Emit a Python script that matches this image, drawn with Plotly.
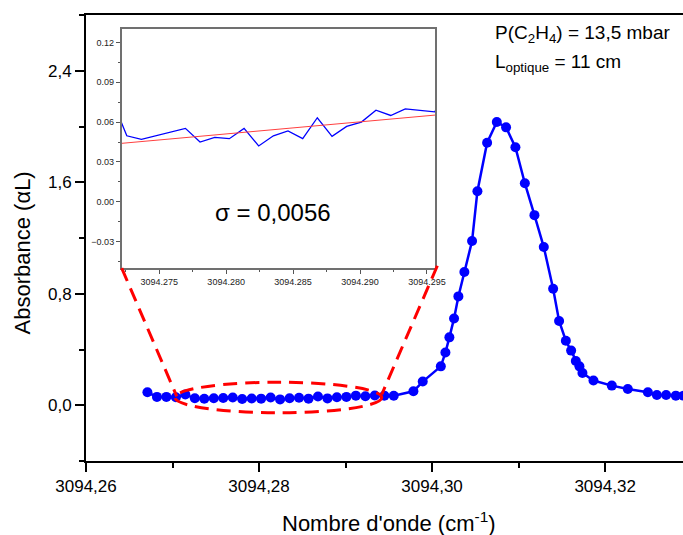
import plotly.graph_objects as go

# ---------------- data ----------------
wavenumber = [
    3094.26710, 3094.26820, 3094.26929, 3094.27039, 3094.27148, 3094.27258,
    3094.27367, 3094.27477, 3094.27586, 3094.27696, 3094.27805, 3094.27915,
    3094.28024, 3094.28134, 3094.28243, 3094.28353, 3094.28462, 3094.28572,
    3094.28681, 3094.28791, 3094.28900, 3094.29010, 3094.29119, 3094.29229,
    3094.29338, 3094.29448, 3094.29557,
    3094.29784, 3094.29892, 3094.30101, 3094.30154, 3094.30200, 3094.30254,
    3094.30304, 3094.30373, 3094.30462, 3094.30524, 3094.30636, 3094.30748,
    3094.30855, 3094.30963, 3094.31072, 3094.31183, 3094.31291, 3094.31399,
    3094.31468, 3094.31546, 3094.31607, 3094.31661, 3094.31703, 3094.31738,
    3094.31865, 3094.32077, 3094.32262, 3094.32494, 3094.32598, 3094.32705,
    3094.32817, 3094.32905,
]
absorbance = [
    0.093, 0.060, 0.060, 0.058, 0.077, 0.0497,
    0.047, 0.0498, 0.0525, 0.0553, 0.045, 0.0485,
    0.0475, 0.0553, 0.042, 0.0497, 0.0533, 0.0475,
    0.0633, 0.0493, 0.0568, 0.060, 0.069, 0.065,
    0.070, 0.069, 0.0678,
    0.100, 0.170, 0.279, 0.378, 0.487, 0.623,
    0.781, 0.956, 1.178, 1.536, 1.884, 2.032,
    1.994, 1.851, 1.593, 1.364, 1.135, 0.836,
    0.605, 0.463, 0.392, 0.318, 0.279, 0.232,
    0.177, 0.141, 0.117, 0.093, 0.074, 0.074,
    0.069, 0.069,
]
fit_x = [3094.2722, 3094.2956]
fit_y = [0.0440, 0.0653]

main_xticks = [3094.26, 3094.28, 3094.30, 3094.32]
main_xtext = ["3094,26", "3094,28", "3094,30", "3094,32"]
main_yticks = [0.0, 0.8, 1.6, 2.4]
main_ytext = ["0,0", "0,8", "1,6", "2,4"]

FONT = "Liberation Sans, Arial, sans-serif"
BLUE = "#0000ff"
RED = "#ff0000"

fig = go.Figure()

# main spectrum
fig.add_trace(go.Scatter(
    x=wavenumber, y=absorbance, mode="lines+markers",
    line=dict(color=BLUE, width=2.5),
    marker=dict(color=BLUE, size=10),
    xaxis="x", yaxis="y", showlegend=False, cliponaxis=True,
))
# inset zoom of baseline
fig.add_trace(go.Scatter(
    x=wavenumber, y=absorbance, mode="lines",
    line=dict(color=BLUE, width=1.3),
    xaxis="x2", yaxis="y2", showlegend=False,
))
fig.add_trace(go.Scatter(
    x=fit_x, y=fit_y, mode="lines",
    line=dict(color="#ff4040", width=1),
    xaxis="x2", yaxis="y2", showlegend=False,
))

dash = "14px,8px"
shapes = [
    dict(type="circle", xref="x", yref="y",
         x0=3094.27029, x1=3094.29418, y0=-0.054, y1=0.165,
         line=dict(color=RED, width=3, dash=dash)),
    dict(type="line", xref="x", yref="y",
         x0=3094.26413, y0=0.984, x1=3094.27049, y1=0.064,
         line=dict(color=RED, width=3, dash=dash)),
    dict(type="line", xref="x", yref="y",
         x0=3094.30061, y0=1.001, x1=3094.29418, y1=0.077,
         line=dict(color=RED, width=3, dash=dash)),
]

annotations = [
    dict(text="Nombre d'onde (cm<sup>-1</sup>)", xref="paper", yref="paper",
         x=0.508, y=-0.136, xanchor="center", yanchor="middle", showarrow=False,
         font=dict(family=FONT, size=22, color="black")),
    dict(text="Absorbance (αL)", xref="paper", yref="paper",
         x=-0.106, y=0.467, xanchor="center", yanchor="middle", showarrow=False,
         textangle=-90, font=dict(family=FONT, size=22, color="black")),
    dict(text="σ = 0,0056", xref="paper", yref="paper",
         x=0.3137, y=0.5567, xanchor="center", yanchor="middle", showarrow=False,
         font=dict(family=FONT, size=24, color="black")),
    dict(text="P(C<sub>2</sub>H<sub>4</sub>) = 13,5 mbar", xref="paper", yref="paper",
         x=0.6817, y=0.958, xanchor="left", yanchor="middle", showarrow=False,
         font=dict(family=FONT, size=19, color="black")),
    dict(text="L<sub>optique</sub> = 11 cm", xref="paper", yref="paper",
         x=0.6817, y=0.893, xanchor="left", yanchor="middle", showarrow=False,
         font=dict(family=FONT, size=19, color="black")),
]

fig.update_layout(
    template="none",
    width=683, height=535,
    margin=dict(l=86, r=0, t=15, b=74, pad=0),
    paper_bgcolor="white", plot_bgcolor="white",
    showlegend=False,
    shapes=shapes, annotations=annotations,
    xaxis=dict(
        automargin=False,
        range=[3094.26, 3094.329], domain=[0, 1],
        tickmode="array", tickvals=main_xticks, ticktext=main_xtext,
        ticks="outside", ticklen=9, tickwidth=2, tickcolor="black",
        minor=dict(tickmode="linear", tick0=3094.26, dtick=0.01,
                   ticks="outside", ticklen=5, tickwidth=2, tickcolor="black"),
        showline=True, linecolor="black", linewidth=2, mirror=True,
        showgrid=False, zeroline=False,
        tickfont=dict(family=FONT, size=17, color="black"),
    ),
    yaxis=dict(
        automargin=False,
        range=[-0.4, 2.8], domain=[0, 1],
        tickmode="array", tickvals=main_yticks, ticktext=main_ytext,
        ticks="outside", ticklen=9, tickwidth=2, tickcolor="black",
        minor=dict(tickmode="linear", tick0=0, dtick=0.4,
                   ticks="outside", ticklen=5, tickwidth=2, tickcolor="black"),
        showline=True, linecolor="black", linewidth=2, mirror=False,
        showgrid=False, zeroline=False,
        tickfont=dict(family=FONT, size=17, color="black"),
    ),
    xaxis2=dict(
        automargin=False,
        anchor="y2", domain=[0.0598, 0.5846],
        range=[3094.2722, 3094.2956],
        tickmode="linear", tick0=3094.275, dtick=0.005, tickformat=".3f",
        ticks="outside", ticklen=4, tickwidth=1, tickcolor="#555555",
        minor=dict(tickmode="linear", tick0=3094.275, dtick=0.0025,
                   ticks="outside", ticklen=2, tickwidth=1, tickcolor="#555555"),
        showline=True, linecolor="#707070", linewidth=1.5, mirror=True,
        showgrid=False, zeroline=False,
        tickfont=dict(family=FONT, size=9, color="#222222"),
    ),
    yaxis2=dict(
        automargin=False,
        anchor="x2", domain=[0.4327, 0.968],
        range=[-0.05, 0.13],
        tickmode="linear", tick0=0, dtick=0.03, tickformat=".2f",
        ticks="outside", ticklen=4, tickwidth=1, tickcolor="#555555",
        minor=dict(tickmode="linear", tick0=0, dtick=0.015,
                   ticks="outside", ticklen=2, tickwidth=1, tickcolor="#555555"),
        showline=True, linecolor="#707070", linewidth=1.5, mirror=True,
        showgrid=False, zeroline=False,
        tickfont=dict(family=FONT, size=9, color="#222222"),
    ),
)

fig.write_html("out.html",
               config={"displayModeBar": False},
               post_script="document.body.style.margin='0';document.body.style.overflow='hidden';")
